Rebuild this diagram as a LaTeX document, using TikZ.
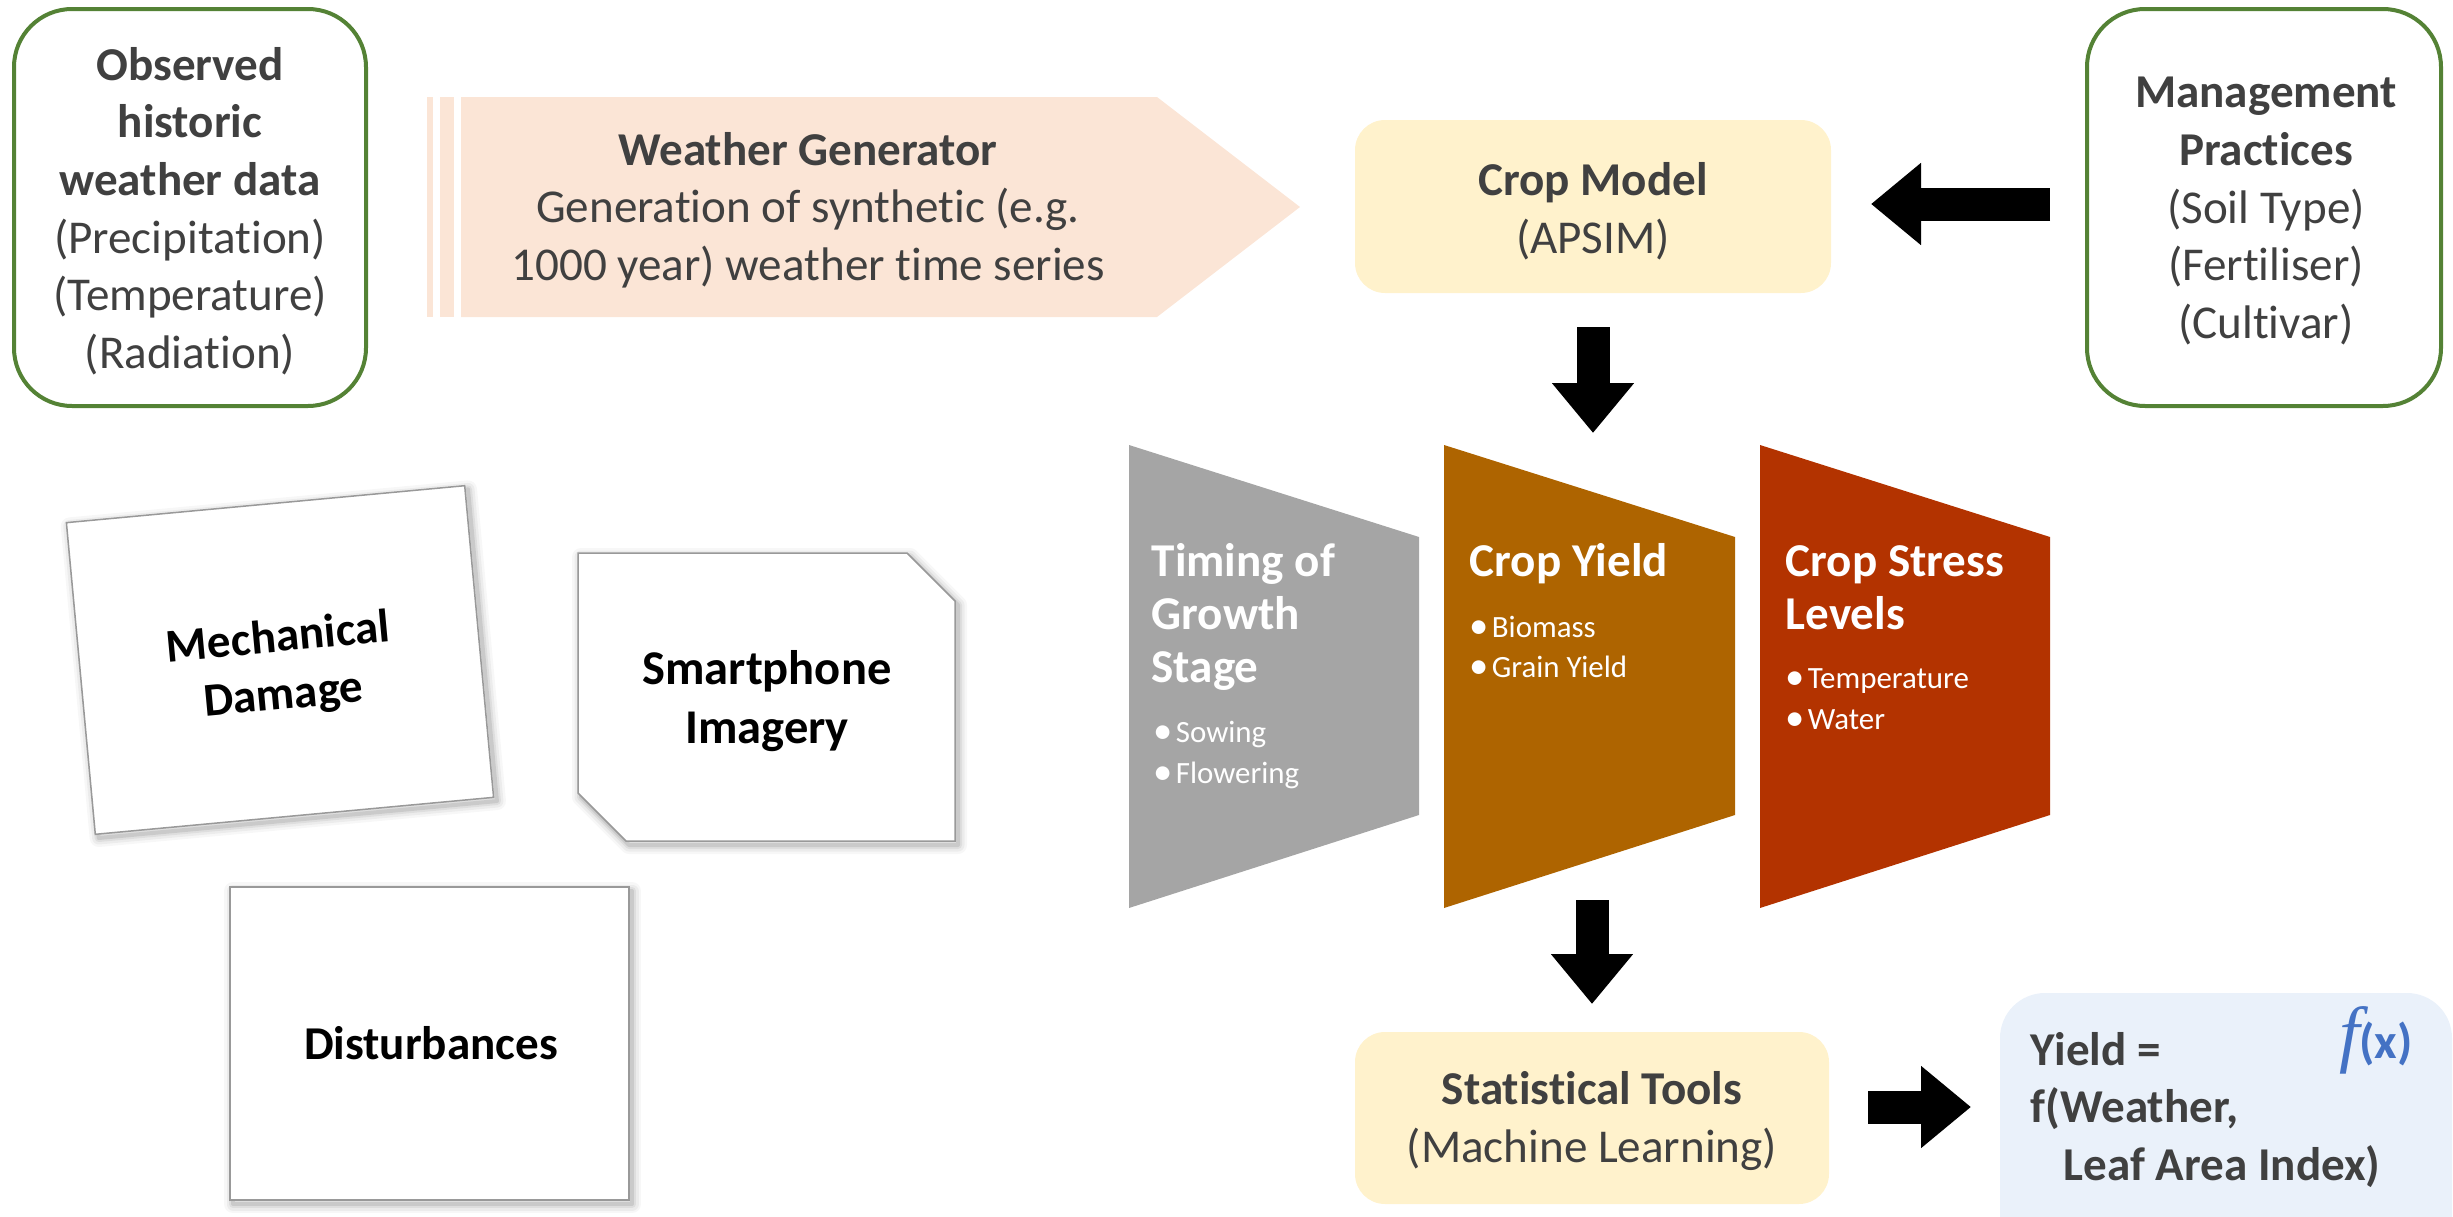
\documentclass[tikz,border=0pt]{standalone}
\usepackage{fontspec}
\setmainfont{Carlito}[Ligatures=NoCommon]
\newfontfamily\iconserif{Liberation Serif}
\usetikzlibrary{arrows.meta}

\definecolor{boxgreen}{HTML}{548235}
\definecolor{peach}{HTML}{FBE5D6}
\definecolor{cream}{HTML}{FFF2CC}
\definecolor{paleblue}{HTML}{EAF1FA}
\definecolor{stagegray}{HTML}{A5A5A5}
\definecolor{yieldorange}{HTML}{AE6400}
\definecolor{stressred}{HTML}{B33300}
\definecolor{textgray}{HTML}{404040}
\definecolor{iconblue}{HTML}{4472C4}

\newcommand\mainsize{\fontsize{13.4pt}{16.4pt}\selectfont}
\newcommand\titlesize{\fontsize{13.4pt}{15.1pt}\selectfont}
\newcommand\bulletsize{\fontsize{8.8pt}{11.6pt}\selectfont}
\newcommand\itembullet{\makebox[6.3pt][l]{\fontsize{11pt}{11pt}\selectfont\raisebox{-0.4pt}{•}}}

% soft halo drawn under a card outline
\newcommand\cardshadow[1]{%
  \foreach \lw/\op in {1.8mm/0.03,1.3mm/0.045,0.8mm/0.06,0.4mm/0.09}{%
    \draw[black, opacity=\op, line width=\lw, line join=round, shift={(3,4)}] #1;
  }}

\tikzset{
  greenbox/.style={draw=boxgreen, line width=0.4mm, rounded corners=5.8mm, fill=white, inner sep=0pt},
  creambox/.style={fill=cream, rounded corners=3mm, inner sep=0pt},
  maintext/.style={text=textgray, font=\mainsize, align=center, inner sep=0pt},
  cardtext/.style={text=black, font=\mainsize\bfseries, align=center, inner sep=0pt},
  stagetitle/.style={text=white, font=\titlesize\bfseries, anchor=base west, inner sep=0pt},
  stageitem/.style={text=white, font=\bulletsize, anchor=base west, inner sep=0pt},
  cardface/.style={fill=white, draw=black!40, line width=0.15mm},
  blockarrow/.style={draw=black, line width=3.3mm, -{Triangle[width=7.9mm, length=5mm]}},
}

\begin{document}
\begin{tikzpicture}[x=0.1mm, y=-0.1mm]
\useasboundingbox (0,0) rectangle (2453,1217);
\clip (0,0) rectangle (2453,1217);

% ---- input boxes ----
\node[greenbox, minimum width=35.2mm, minimum height=39.7mm] (obs) at (190,207.5) {};
\node[maintext] (obstext) at (190,211)
  {\textbf{Observed}\\\textbf{historic}\\\textbf{weather data}\\(Precipitation)\\(Temperature)\\(Radiation)};

\node[greenbox, minimum width=35.4mm, minimum height=39.7mm] (mgmt) at (2264,207.5) {};
\node[maintext] (mgmttext) at (2266,211)
  {\textbf{Management}\\\textbf{Practices}\\(Soil Type)\\(Fertiliser)\\(Cultivar)};

% ---- weather generator (striped arrow) ----
\fill[peach] (427,97) rectangle (433,317);
\fill[peach] (440,97) rectangle (454,317);
\fill[peach] (461,97) -- (1157,97) -- (1300,207) -- (1157,317) -- (461,317) -- cycle;
\node[maintext] (wgtext) at (808,210)
  {\textbf{Weather Generator}\\Generation of synthetic (e.g.\\1000 year) weather time series};

% ---- crop model and statistical tools ----
\node[creambox, minimum width=47.6mm, minimum height=17.3mm] (crop) at (1593,206.5) {};
\node[maintext] (croptext) at (1593,211) {\textbf{Crop Model}\\(APSIM)};

\node[creambox, minimum width=47.4mm, minimum height=17.2mm] (stats) at (1592,1118) {};
\node[maintext] (statstext) at (1592,1121) {\textbf{Statistical Tools}\\(Machine Learning)};

% ---- result box ----
\node[fill=paleblue, rounded corners=4.5mm, inner sep=0pt, minimum width=45.2mm, minimum height=30.7mm] (yieldbox) at (2226,1146.5) {};
\node[maintext, align=left, anchor=west, font=\mainsize\bfseries] (yieldtext) at (2030,1110)
  {Yield =\\f(Weather,\\\hspace*{9.4pt}Leaf Area Index)};
\node[inner sep=0pt, text=iconblue] (fx) at (2376,1040)
  {{\iconserif\itshape\fontsize{21pt}{21pt}\selectfont f}\kern-0.3pt{\fontsize{14pt}{14pt}\selectfont\bfseries(x)}};

% ---- output stages ----
\fill[stagegray] (1129,445) -- (1419,537) -- (1419,815) -- (1129,908) -- cycle;
\fill[yieldorange] (1444,445) -- (1735,537) -- (1735,815) -- (1444,908) -- cycle;
\fill[stressred] (1760,445) -- (2050,537) -- (2050,815) -- (1760,908) -- cycle;

\node[stagetitle] (t1a) at (1151,576) {Timing of};
\node[stagetitle] (t1b) at (1151,629) {Growth};
\node[stagetitle] (t1c) at (1151,682) {Stage};
\node[stageitem] (t1d) at (1153,742) {\itembullet Sowing};
\node[stageitem] (t1e) at (1153,783) {\itembullet Flowering};

\node[stagetitle] (t2a) at (1469,576) {Crop Yield};
\node[stageitem] (t2b) at (1469,637) {\itembullet Biomass};
\node[stageitem] (t2c) at (1469,677) {\itembullet Grain Yield};

\node[stagetitle] (t3a) at (1785,576) {Crop Stress};
\node[stagetitle] (t3b) at (1785,629) {Levels};
\node[stageitem] (t3c) at (1785,688) {\itembullet Temperature};
\node[stageitem] (t3d) at (1785,729) {\itembullet Water};

% ---- block arrows ----
\coordinate (mgmtout) at (2050,204);
\coordinate (cropin) at (1871,204);
\coordinate (cropout) at (1593,327);
\coordinate (stagein) at (1593,433);
\coordinate (stageout) at (1592,900);
\coordinate (statsin) at (1592,1004);
\coordinate (statsout) at (1868,1107);
\coordinate (yieldin) at (1971,1107);
\draw[blockarrow] (mgmtout) -- (cropin);
\draw[blockarrow] (cropout) -- (stagein);
\draw[blockarrow] (stageout) -- (statsin);
\draw[blockarrow] (statsout) -- (yieldin);

% ---- observation cards ----
\begin{scope}[shift={(280,660)}, rotate=5.3]
  \cardshadow{(-200,-156.5) rectangle (200,156.5)}
  \filldraw[cardface] (-200,-156.5) rectangle (200,156.5);
\end{scope}
\node[cardtext, rotate=5.3] (mech) at (281,668) {Mechanical\\Damage};

\cardshadow{(578,553) -- (907,553) -- (955,601) -- (955,841) -- (626,841) -- (578,793) -- cycle}
\filldraw[cardface] (578,553) -- (907,553) -- (955,601) -- (955,841) -- (626,841) -- (578,793) -- cycle;
\node[cardtext, font=\fontsize{13.8pt}{16.6pt}\selectfont\bfseries] (phone) at (767,701) {Smartphone\\Imagery};

\cardshadow{(230,887) rectangle (629,1200)}
\filldraw[cardface] (230,887) rectangle (629,1200);
\node[cardtext] (dist) at (431,1043) {Disturbances};

\end{tikzpicture}
\end{document}
